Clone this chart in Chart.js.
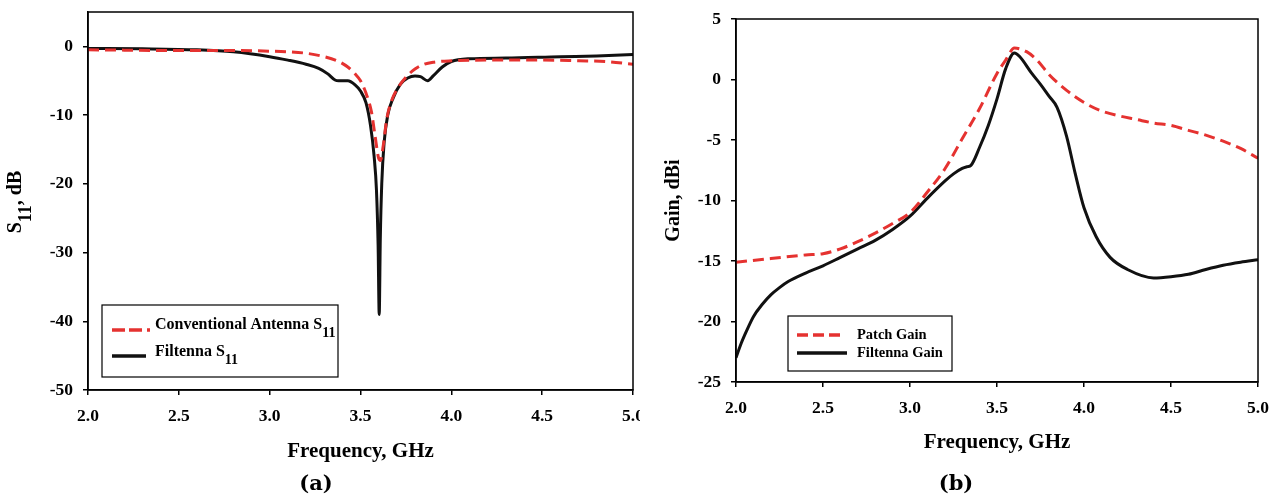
<!DOCTYPE html>
<html>
<head>
<meta charset="utf-8">
<script src="https://cdn.jsdelivr.net/npm/chart.js@4.4.1/dist/chart.umd.min.js"></script>
<style>
  html, body { margin: 0; padding: 0; background: #fff; }
  .panel { position: absolute; top: 0; width: 640px; height: 500px; }
</style>
</head>
<body>
<div class="panel" style="left:0"><canvas id="chartA"></canvas></div>
<div class="panel" style="left:640px"><canvas id="chartB"></canvas></div>
<script>
// (a) S11 curves
const freqConv = [2.0, 2.2, 2.4, 2.6, 2.8, 3.0, 3.1, 3.2, 3.3, 3.38, 3.43, 3.47, 3.5, 3.53, 3.56, 3.58, 3.6, 3.61, 3.625, 3.645, 3.67, 3.7, 3.75, 3.8, 3.85, 3.9, 4.0, 4.2, 4.5, 4.7, 4.85, 5.0];
const s11Conv  = [-0.5, -0.55, -0.6, -0.6, -0.6, -0.7, -0.8, -1.0, -1.5, -2.2, -3.0, -4.0, -5.0, -6.8, -9.5, -13.0, -16.3, -16.6, -14.5, -10.5, -8.0, -6.3, -4.5, -3.3, -2.6, -2.3, -2.1, -2.0, -2.0, -2.1, -2.2, -2.6];
const freqFil  = [2.0, 2.3, 2.6, 2.8, 3.0, 3.1, 3.2, 3.27, 3.32, 3.36, 3.38, 3.43, 3.47, 3.5, 3.53, 3.555, 3.575, 3.588, 3.597, 3.603, 3.609, 3.617, 3.63, 3.65, 3.68, 3.72, 3.76, 3.8, 3.83, 3.87, 3.9, 3.95, 4.0, 4.1, 4.3, 4.6, 4.8, 5.0];
const s11Fil   = [-0.3, -0.35, -0.5, -0.8, -1.5, -2.0, -2.6, -3.2, -4.0, -4.9, -5.0, -5.0, -5.6, -6.5, -8.2, -11.5, -16.0, -21.0, -29.0, -39.0, -28.0, -20.0, -14.0, -10.0, -7.5, -5.5, -4.6, -4.3, -4.4, -5.0, -4.3, -3.0, -2.2, -1.8, -1.7, -1.5, -1.4, -1.2];

// (b) gain curves
const freqPatch = [2.0, 2.2, 2.4, 2.5, 2.6, 2.7, 2.8, 2.9, 3.0, 3.1, 3.2, 3.3, 3.4, 3.5, 3.55, 3.6, 3.67, 3.73, 3.8, 3.9, 4.0, 4.1, 4.2, 4.3, 4.4, 4.5, 4.6, 4.7, 4.8, 4.9, 5.0];
const gainPatch = [-15.1, -14.8, -14.5, -14.4, -14.0, -13.4, -12.7, -11.9, -11.0, -9.3, -7.4, -4.9, -2.4, 0.5, 1.6, 2.6, 2.3, 1.6, 0.4, -0.9, -1.9, -2.6, -3.0, -3.3, -3.6, -3.8, -4.2, -4.6, -5.1, -5.7, -6.5];
const freqGainFil = [2.0, 2.03, 2.06, 2.1, 2.15, 2.2, 2.25, 2.3, 2.4, 2.5, 2.6, 2.7, 2.8, 2.9, 3.0, 3.1, 3.2, 3.25, 3.3, 3.33, 3.35, 3.4, 3.45, 3.5, 3.55, 3.6, 3.63, 3.7, 3.75, 3.8, 3.845, 3.9, 3.95, 4.0, 4.07, 4.15, 4.25, 4.4, 4.5, 4.6, 4.7, 4.8, 4.9, 5.0];
const gainFil     = [-23.0, -21.8, -20.8, -19.6, -18.6, -17.8, -17.2, -16.7, -16.0, -15.4, -14.7, -14.0, -13.3, -12.4, -11.3, -9.8, -8.4, -7.8, -7.35, -7.2, -7.1, -5.6, -3.8, -1.6, 0.9, 2.2, 1.9, 0.5, -0.4, -1.4, -2.3, -4.7, -7.8, -10.6, -13.0, -14.7, -15.7, -16.4, -16.3, -16.1, -15.7, -15.35, -15.1, -14.9];

const xTicks = [2.0, 2.5, 3.0, 3.5, 4.0, 4.5, 5.0];
const yTicksA = [0, -10, -20, -30, -40, -50];
const yTicksB = [5, 0, -5, -10, -15, -20, -25];

const RED = "#e53230";
const BLACK = "#111111";
const SERIF = "'Liberation Serif', 'Times New Roman', serif";

const pts = (xs, ys) => xs.map((x, i) => ({ x: x, y: ys[i] }));

// text with a subscript part, returns the width used
function subText(ctx, x, y, main, sub, tail, size, measureOnly) {
  const subSize = Math.round(size * 0.88);
  ctx.font = "bold " + size + "px " + SERIF;
  const w1 = ctx.measureText(main).width;
  const w3 = ctx.measureText(tail).width;
  ctx.font = "bold " + subSize + "px " + SERIF;
  const w2 = ctx.measureText(sub).width;
  if (!measureOnly) {
    ctx.textBaseline = "middle";
    ctx.textAlign = "left";
    ctx.font = "bold " + size + "px " + SERIF;
    ctx.fillText(main, x, y);
    ctx.fillText(tail, x + w1 + w2, y);
    ctx.font = "bold " + subSize + "px " + SERIF;
    ctx.fillText(sub, x + w1, y + size * 0.5);
  }
  return w1 + w2 + w3;
}

const decor = {
  id: "decor",
  afterDraw(chart, args, o) {
    const ctx = chart.ctx;
    const a = chart.chartArea;
    ctx.save();
    // box round the plot
    ctx.strokeStyle = "#000";
    ctx.lineWidth = 1.5;
    ctx.strokeRect(a.left, a.top, a.right - a.left, a.bottom - a.top);

    // y title with subscript
    if (o.yTitle) {
      const t = o.yTitle;
      ctx.fillStyle = "#000";
      ctx.translate(t.x, t.y);
      ctx.rotate(-Math.PI / 2);
      const w = subText(ctx, 0, 0, t.main, t.sub, t.tail, 20, true);
      subText(ctx, -w / 2, -4, t.main, t.sub, t.tail, 20, false);
      ctx.setTransform(1, 0, 0, 1, 0, 0);
    }

    // legend
    const L = o.legend;
    ctx.fillStyle = "#fff";
    ctx.fillRect(L.x, L.y, L.w, L.h);
    ctx.strokeStyle = "#000";
    ctx.lineWidth = 1.2;
    ctx.strokeRect(L.x, L.y, L.w, L.h);
    L.rows.forEach(r => {
      ctx.beginPath();
      ctx.strokeStyle = r.color;
      ctx.lineWidth = 3.5;
      ctx.setLineDash(r.dash);
      ctx.moveTo(r.x1, r.y);
      ctx.lineTo(r.x2, r.y);
      ctx.stroke();
      ctx.setLineDash([]);
      ctx.fillStyle = "#000";
      subText(ctx, r.tx, r.ty, r.main, r.sub, "", L.size, false);
    });

    // panel label
    ctx.fillStyle = "#000";
    ctx.font = "bold 21px 'DejaVu Serif', serif";
    ctx.textAlign = "center";
    ctx.textBaseline = "middle";
    ctx.fillText(o.label.text, o.label.x, o.label.y);
    ctx.restore();
  }
};

function makeChart(id, cfg) {
  const tickFont = { family: SERIF, size: 17.5, weight: "bold" };
  const titleFont = { family: SERIF, size: 21, weight: "bold" };
  return new Chart(document.getElementById(id), {
    type: "line",
    data: { datasets: cfg.datasets },
    options: {
      responsive: true,
      maintainAspectRatio: false,
      animation: false,
      layout: { padding: cfg.padding },
      elements: { point: { radius: 0 } },
      plugins: { legend: { display: false }, tooltip: { enabled: false }, decor: cfg.decor },
      scales: {
        x: {
          type: "linear", min: 2, max: 5,
          afterBuildTicks: s => { s.ticks = xTicks.map(v => ({ value: v })); },
          afterFit: s => { s.height = cfg.xHeight; s.paddingLeft = 0; s.paddingRight = 0; },
          ticks: { callback: v => v.toFixed(1), font: tickFont, color: "#000", padding: 11, maxRotation: 0, autoSkip: false },
          grid: { display: true, drawOnChartArea: false, drawTicks: true, tickLength: 5, color: "#000", lineWidth: 1.5 },
          border: { display: true, color: "#000", width: 1.5 },
          title: { display: true, text: "Frequency, GHz", font: titleFont, color: "#000", padding: { top: 0, bottom: cfg.xTitlePad } }
        },
        y: {
          type: "linear", min: cfg.yMin, max: cfg.yMax,
          afterBuildTicks: s => { s.ticks = cfg.yTicks.map(v => ({ value: v })); },
          afterFit: s => { s.width = cfg.yWidth; s.paddingTop = 0; s.paddingBottom = 0; },
          ticks: { font: tickFont, color: "#000", padding: 10, autoSkip: false },
          grid: { display: true, drawOnChartArea: false, drawTicks: true, tickLength: 5, color: "#000", lineWidth: 1.5 },
          border: { display: true, color: "#000", width: 1.5 },
          title: cfg.yTitle
        }
      }
    },
    plugins: [decor]
  });
}

makeChart("chartA", {
  padding: { left: 0, right: 7, top: 12, bottom: 0 },
  xHeight: 110, yWidth: 88, xTitlePad: 36,
  yMin: -50, yMax: 5, yTicks: yTicksA,
  yTitle: { display: false },
  datasets: [
    { label: "Conventional Antenna S11", data: pts(freqConv, s11Conv), borderColor: RED, borderWidth: 3, borderDash: [11, 6], cubicInterpolationMode: "monotone", fill: false },
    { label: "Filtenna S11", data: pts(freqFil, s11Fil), borderColor: BLACK, borderWidth: 3, cubicInterpolationMode: "monotone", fill: false }
  ],
  decor: {
    yTitle: { x: 20, y: 202, main: "S", sub: "11", tail: ", dB" },
    legend: {
      x: 102, y: 305, w: 236, h: 72, size: 16,
      rows: [
        { color: RED, dash: [13, 4, 13, 5, 4, 50], x1: 112, x2: 150, y: 330, tx: 155, ty: 325, main: "Conventional Antenna S", sub: "11" },
        { color: BLACK, dash: [], x1: 112, x2: 146, y: 356, tx: 155, ty: 352, main: "Filtenna S", sub: "11" }
      ]
    },
    label: { text: "(a)", x: 316, y: 485 }
  }
});

makeChart("chartB", {
  padding: { left: 0, right: 22, top: 19, bottom: 0 },
  xHeight: 118, yWidth: 96, xTitlePad: 45,
  yMin: -25, yMax: 5, yTicks: yTicksB,
  yTitle: { display: true, text: "Gain, dBi", font: { family: SERIF, size: 20, weight: "bold" }, color: "#000", padding: { top: 22, bottom: 0 } },
  datasets: [
    { label: "Patch Gain", data: pts(freqPatch, gainPatch), borderColor: RED, borderWidth: 3, borderDash: [11, 6], cubicInterpolationMode: "monotone", fill: false },
    { label: "Filtenna Gain", data: pts(freqGainFil, gainFil), borderColor: BLACK, borderWidth: 3, cubicInterpolationMode: "monotone", fill: false }
  ],
  decor: {
    legend: {
      x: 148, y: 316, w: 164, h: 55, size: 14.5,
      rows: [
        { color: RED, dash: [11, 5], x1: 157, x2: 200, y: 335, tx: 217, ty: 335, main: "Patch Gain", sub: "" },
        { color: BLACK, dash: [], x1: 157, x2: 207, y: 353, tx: 217, ty: 353, main: "Filtenna Gain", sub: "" }
      ]
    },
    label: { text: "(b)", x: 316, y: 485 }
  }
});
</script>
</body>
</html>
